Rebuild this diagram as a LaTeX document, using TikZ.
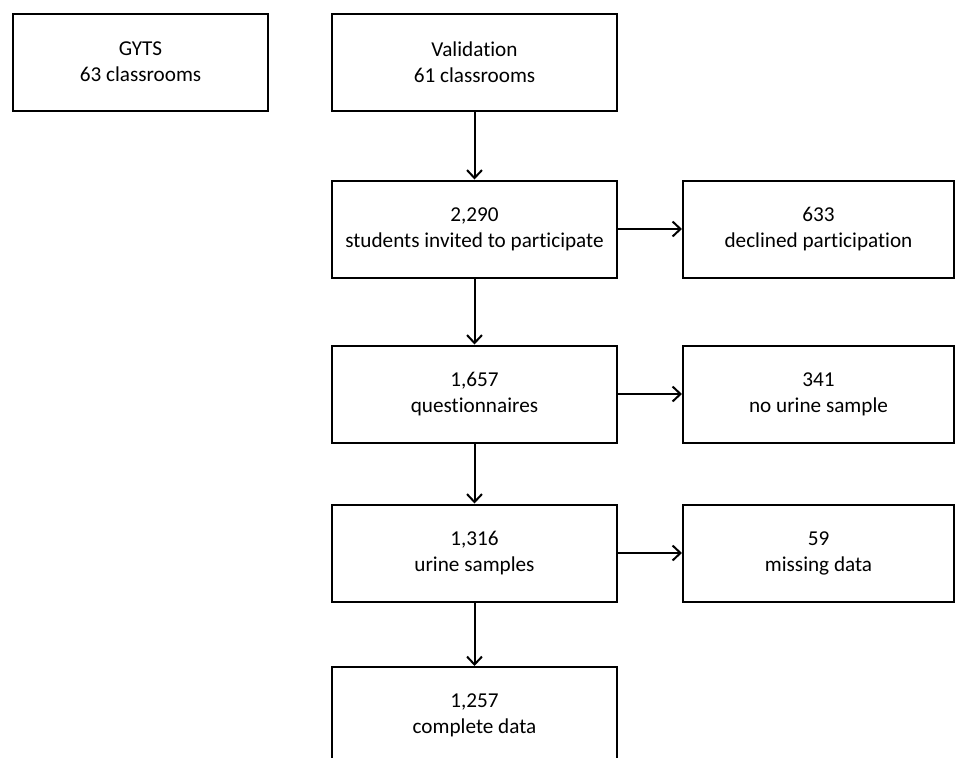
\documentclass[tikz,border=0pt]{standalone}
\usepackage{fontspec}
\setmainfont{Carlito}[Ligatures=NoCommon]
\usetikzlibrary{arrows.meta}
\begin{document}
\begin{tikzpicture}[x=0.5pt,y=-0.5pt,line width=1pt,
    box/.style={draw,inner sep=0pt,align=center,minimum height=48.5pt,
      font=\fontsize{10.6}{13}\selectfont},
    arr/.style={-{Straight Barb[length=4pt,width=7.5pt,line width=1pt]}}]
  \useasboundingbox (0,0) rectangle (960,757);
  \node[box,minimum width=127.5pt] (gyts) at (140.5,62) {GYTS\\63 classrooms};
  \node[box,minimum width=142.5pt] (valid) at (474.5,62) {Validation\\61 classrooms};
  \node[box,minimum width=142.5pt] (invited) at (474.5,229) {2,290\\students invited to participate};
  \node[box,minimum width=142.5pt] (quest) at (474.5,394) {1,657\\questionnaires};
  \node[box,minimum width=142.5pt] (urine) at (474.5,553) {1,316\\urine samples};
  \node[box,minimum width=142.5pt] (complete) at (474.5,715.5) {1,257\\complete data};
  \node[box,minimum width=135.5pt] (declined) at (818.5,229) {633\\declined participation};
  \node[box,minimum width=135.5pt] (nourine) at (818.5,394) {341\\no urine sample};
  \node[box,minimum width=135.5pt] (missing) at (818.5,553) {59\\missing data};
  \foreach \a/\b in {valid/invited,invited/quest,quest/urine,urine/complete}
    {\draw[arr] (\a) -- (\b);}
  \foreach \a/\b in {invited/declined,quest/nourine,urine/missing}
    {\draw[arr] (\a) -- (\b);}
\end{tikzpicture}
\end{document}
